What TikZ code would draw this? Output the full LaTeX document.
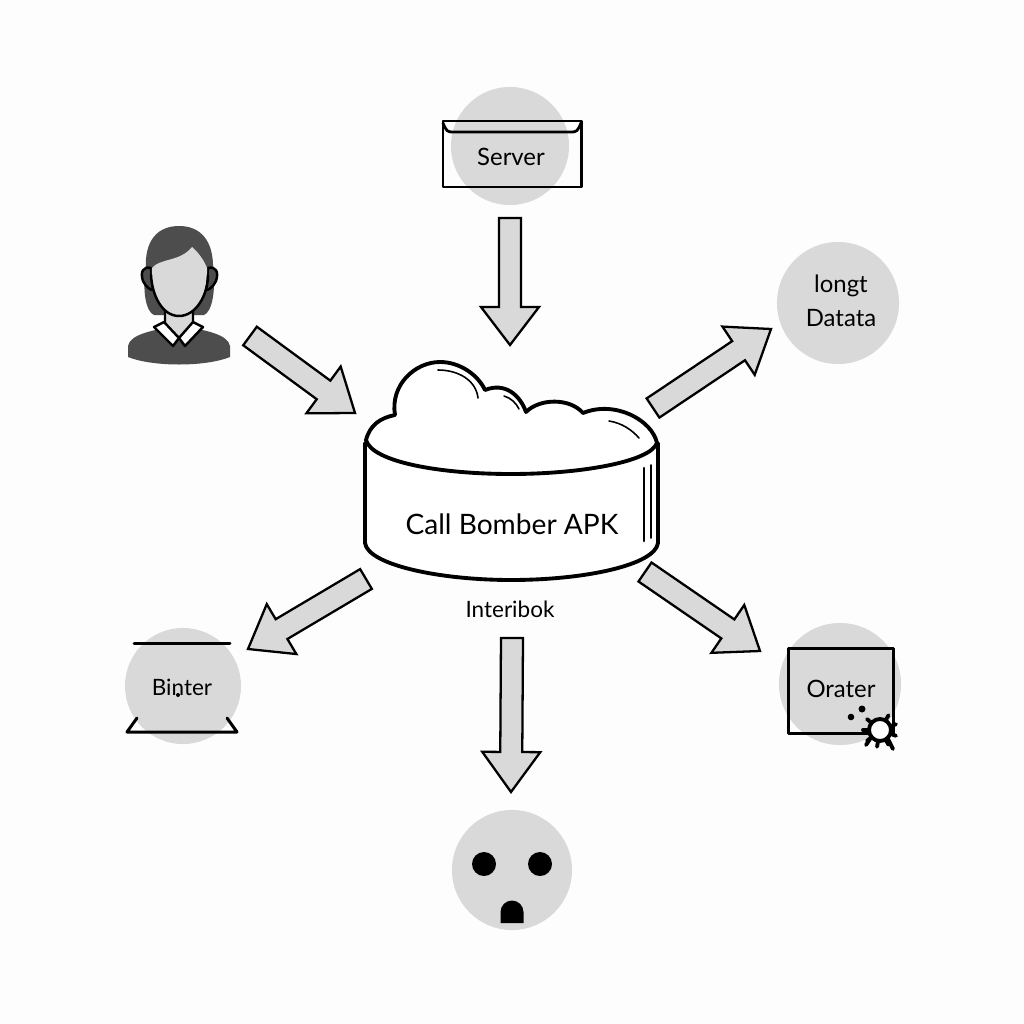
\documentclass[tikz,border=0pt]{standalone}
\usepackage{fontspec}
\setmainfont{Lato}
\usepackage{tikz}
\usetikzlibrary{calc}
\definecolor{discgray}{HTML}{D9D9D9}
\definecolor{hairgray}{HTML}{4D4D4D}
\definecolor{paper}{HTML}{FDFDFD}
\tikzset{
  disc/.style={circle,fill=discgray,inner sep=0pt},
  bigarrow/.style={draw=black,fill=discgray,line width=0.65pt,line join=miter},
  heavy/.style={draw=black,line width=1.1pt},
  outline/.style={line width=0.85pt},
  lbl/.style={inner sep=0pt,font=\fontsize{6.8}{9}\selectfont},
}
% block arrow: tail, tip, half shaft, half head, head length
\newcommand{\blockarrow}[5]{
  \coordinate (neck) at ($(#2)!#5!(#1)$);
  \draw[bigarrow] ($(#1)!#3!90:(#2)$) -- ($(neck)!#3!90:(#2)$) -- ($(neck)!#4!90:(#2)$)
    -- (#2) -- ($(neck)!#4!-90:(#2)$) -- ($(neck)!#3!-90:(#2)$) -- ($(#1)!#3!-90:(#2)$) -- cycle;
}
\begin{document}
\begin{tikzpicture}[x=0.01cm,y=-0.01cm,line cap=round,line join=round]
  \useasboundingbox[fill=paper] (0,0) rectangle (1024,1024);

  % server
  \node[disc,minimum size=1.18cm] (server) at (510,146) {};
  \draw[outline] (443,121) rectangle (581,187);
  \draw[line width=0.8pt] (443,123) .. controls (446,131) and (448,132) .. (452,132) -- (572,132) .. controls (576,132) and (578,131) .. (581,123);
  \node[lbl] (serverlabel) at (511,157) {Server};

  % data
  \node[disc,minimum size=1.22cm] (data) at (838,303) {};
  \node[lbl] (datatop) at (841,286) {longt};
  \node[lbl] (datalabel) at (841,318) {Datata};

  % printer
  \node[disc,minimum size=1.16cm] (binter) at (183,686) {};
  \draw[outline] (134,643) -- (230,643);
  \draw[outline] (137,718) -- (127,732) -- (237,732) -- (227,718);
  \node[lbl,font=\fontsize{6.4}{9}\selectfont] (binterlabel) at (182,687) {Binter};
  \fill (178,695) circle (2);

  % orater
  \node[disc,minimum size=1.22cm] (orater) at (840,684) {};
  \draw[outline] (788,648) rectangle (893,733);
  \node[lbl] (oraterlabel) at (841,689) {Orater};
  \fill (862,709) circle (3.5);
  \fill (851,717) circle (3.3);
  \foreach \a in {-20,20,60,100,140,180,220,300}
    \draw[line width=1.1pt] (880,730) ++(\a:10) -- ++(\a:7);
  \draw[line width=1.1pt] (888,739) -- (893,749);
  \draw[line width=1.1pt] (870,739) -- (866,745);
  \draw[line width=1.1pt,fill=white] (880,730) circle (11);

  % face
  \node[disc,minimum size=1.2cm] (face) at (512,870) {};
  \fill (484,864) circle (12);
  \fill (540,864) circle (12);
  \fill (500.5,923) -- (500.5,912) arc (180:360:11.5) -- (523.5,923) -- cycle;

  % person
  \fill[hairgray] (146,270) .. controls (144,240) and (158,226) .. (179,226)
    .. controls (200,226) and (214,240) .. (213,270)
    .. controls (216,290) and (212,312) .. (204,315) .. controls (195,315) and (165,315) .. (154,315)
    .. controls (146,312) and (142,290) .. (146,270) -- cycle;
  \draw[line width=0.7pt,fill=hairgray] (151,268) .. controls (143,266) and (140,272) .. (143,281) .. controls (146,287) and (150,290) .. (153,290) -- cycle;
  \draw[line width=0.7pt,fill=hairgray] (208,268) .. controls (216,266) and (219,272) .. (216,281) .. controls (213,287) and (209,290) .. (206,290) -- cycle;
  \fill[hairgray] (128,357) -- (128,346) .. controls (130,335) and (150,330) .. (179,326)
    .. controls (208,330) and (228,335) .. (230,346) -- (230,357)
    .. controls (205,367) and (153,367) .. (128,357) -- cycle;
  \draw[line width=0.7pt,fill=discgray] (165,306) -- (165,326) -- (179,338) -- (193,326) -- (193,306);
  \draw[line width=0.7pt,fill=white] (154,327) -- (164,322) -- (179,338) -- (173,346) -- cycle;
  \draw[line width=0.7pt,fill=white] (203,327) -- (193,322) -- (179,338) -- (185,346) -- cycle;
  \fill[discgray] (152,268) .. controls (160,258) and (180,262) .. (192,247)
    .. controls (198,252) and (204,260) .. (207,268)
    .. controls (208,290) and (198,316) .. (179,316)
    .. controls (160,316) and (150,290) .. (152,268) -- cycle;
  \draw[line width=0.7pt] (151,275) .. controls (152,295) and (162,316) .. (179,316)
    .. controls (196,316) and (208,295) .. (208,275);

  % tub
  \draw[heavy,fill=white] (365,443) -- (365,543) .. controls (368,565) and (440,580) .. (511,580)
    .. controls (585,580) and (655,565) .. (658,543) -- (658,443) -- cycle;
  \draw[heavy,fill=white] (366,440) .. controls (370,425) and (380,418) .. (395,415)
    .. controls (390,385) and (415,362) .. (440,362)
    .. controls (460,362) and (478,375) .. (485,390)
    .. controls (505,382) and (520,395) .. (526,412)
    .. controls (540,398) and (570,398) .. (583,413)
    .. controls (615,400) and (652,420) .. (657,443)
    .. controls (650,462) and (580,474) .. (511,474)
    .. controls (440,474) and (372,462) .. (366,440) -- cycle;
  \draw[line width=0.45pt] (438,370) .. controls (458,370) and (476,380) .. (478,398);
  \draw[line width=0.45pt] (504,396) .. controls (511,398) and (516,403) .. (519,409);
  \draw[line width=0.45pt] (609,421) .. controls (622,423) and (632,430) .. (639,438);
  \draw[line width=0.75pt] (644,468) -- (644,541);
  \draw[line width=0.45pt] (651,465) -- (651,538);
  \node[inner sep=0pt,font=\fontsize{8}{10}\selectfont] (tub) at (512,524) {Call Bomber APK};
  \node[lbl,font=\fontsize{6.4}{9}\selectfont] (tubcaption) at (510,609) {Interibok};

  % arrows
  \coordinate (a1) at (510,218); \coordinate (b1) at (510,345);
  \coordinate (a2) at (250,336); \coordinate (b2) at (355,413);
  \coordinate (a3) at (653,408); \coordinate (b3) at (771,329);
  \coordinate (a4) at (366,579); \coordinate (b4) at (248,649);
  \coordinate (a5) at (645,572); \coordinate (b5) at (760,651);
  \coordinate (a6) at (512,638); \coordinate (b6) at (511,792);
  \blockarrow{a1}{b1}{0.11cm}{0.29cm}{0.38cm}
  \blockarrow{a2}{b2}{0.115cm}{0.29cm}{0.39cm}
  \blockarrow{a3}{b3}{0.115cm}{0.29cm}{0.39cm}
  \blockarrow{a4}{b4}{0.115cm}{0.29cm}{0.39cm}
  \blockarrow{a5}{b5}{0.115cm}{0.29cm}{0.39cm}
  \blockarrow{a6}{b6}{0.11cm}{0.29cm}{0.40cm}
\end{tikzpicture}
\end{document}
